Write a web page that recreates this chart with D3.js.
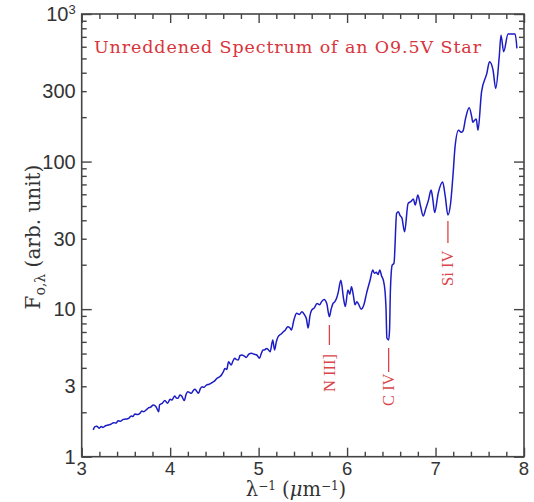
<!DOCTYPE html>
<html><head><meta charset="utf-8">
<script src="https://cdn.jsdelivr.net/npm/d3@7"></script>
<style>body{margin:0;background:#fff}</style>
</head><body>
<svg id="c" width="534" height="502"></svg>
<script>
const waveNumber = [3.13,3.15,3.17,3.20,3.22,3.24,3.27,3.30,3.33,3.36,3.39,3.41,3.44,3.47,3.50,3.53,3.56,3.58,3.60,3.63,3.66,3.68,3.70,3.73,3.75,3.78,3.81,3.84,3.87,3.88,3.91,3.94,3.97,4.00,4.02,4.05,4.07,4.09,4.11,4.13,4.16,4.18,4.20,4.22,4.24,4.26,4.28,4.30,4.32,4.34,4.36,4.38,4.41,4.44,4.47,4.50,4.53,4.56,4.58,4.60,4.62,4.64,4.66,4.69,4.71,4.73,4.75,4.77,4.79,4.81,4.84,4.86,4.89,4.92,4.95,4.98,5.01,5.03,5.05,5.07,5.09,5.11,5.13,5.16,5.18,5.20,5.22,5.25,5.28,5.30,5.33,5.35,5.37,5.40,5.43,5.46,5.49,5.52,5.54,5.56,5.58,5.60,5.63,5.66,5.69,5.71,5.74,5.77,5.80,5.82,5.84,5.86,5.88,5.90,5.93,5.96,5.98,6.01,6.03,6.05,6.07,6.09,6.11,6.13,6.16,6.19,6.22,6.26,6.29,6.31,6.33,6.35,6.37,6.39,6.41,6.43,6.44,6.45,6.47,6.48,6.49,6.51,6.53,6.56,6.58,6.60,6.62,6.65,6.69,6.72,6.75,6.77,6.80,6.83,6.86,6.89,6.92,6.95,6.97,6.99,7.03,7.08,7.11,7.14,7.17,7.20,7.22,7.26,7.29,7.31,7.34,7.38,7.41,7.42,7.44,7.46,7.48,7.52,7.58,7.61,7.65,7.68,7.72,7.74,7.77,7.82,7.90,7.92];
const flux = [1.52,1.60,1.61,1.56,1.60,1.58,1.62,1.64,1.66,1.70,1.69,1.75,1.74,1.79,1.80,1.82,1.89,1.87,1.95,1.93,1.97,2.04,2.02,2.08,2.13,2.17,2.24,2.18,2.02,2.24,2.30,2.40,2.30,2.45,2.42,2.58,2.50,2.49,2.62,2.58,2.40,2.65,2.76,2.72,2.69,2.80,2.86,2.78,2.69,2.88,2.98,2.95,3.06,3.10,3.17,3.25,3.40,3.48,3.58,3.75,3.96,3.90,4.40,4.18,4.45,4.64,4.55,4.52,4.85,4.89,4.80,4.71,4.95,5.02,4.95,4.89,4.64,5.00,5.28,5.30,5.42,5.30,5.14,6.18,5.28,6.00,6.50,6.75,7.03,7.20,7.60,7.50,7.22,8.50,9.37,9.20,9.60,9.12,8.60,7.45,9.00,9.86,10.2,10.9,10.7,11.2,11.6,10.9,8.88,10.0,10.9,11.2,11.8,13.0,15.7,11.8,10.4,13.5,12.6,14.2,12.5,10.7,11.2,10.8,10.0,10.7,12.8,15.7,18.4,17.5,17.8,17.2,18.4,16.8,15.7,13.0,10.2,6.37,6.18,7.22,13.5,19.9,20.4,44.6,45.7,43.0,41.4,33.4,52.1,53.5,55.7,50.7,59.3,50.0,42.7,48.0,54.8,64.1,55.0,45.1,60.9,72.6,58.0,43.4,52.0,85.0,125,163,158,161,197,232,200,185,190,194,163,297,396,474,417,313,513,719,555,731,731,585];
const xTickLabels = [3,4,5,6,7,8];
const yTickLabels = [1,3,10,30,100,300,1000];
const lines = [
  {label:"N III]", at:5.80},
  {label:"C IV", at:6.47},
  {label:"Si IV", at:7.14}
];
const title = "Unreddened Spectrum of an O9.5V Star";

const svg = d3.select("#c");
const L=81.7, R=524, T=14, B=456.7;
const x = d3.scaleLinear().domain([3,8]).range([L,R]);
const y = d3.scaleLog().domain([1,1000]).range([B,T]);
const axisCol = "#444";
const serif = "DejaVu Serif, Liberation Serif, serif";

// frame
svg.append("rect").attr("x",L).attr("y",T).attr("width",R-L).attr("height",B-T)
  .attr("fill","none").attr("stroke",axisCol).attr("stroke-width",1.6);

const xMajor = d3.range(3,8.001,1);
const xMinor = d3.range(3,8.001,0.2).filter(v=>Math.abs(v-Math.round(v))>1e-6);
const yMajor = [1,10,100,1000];
const yMinor = [];
[1,10,100].forEach(d=>{for(let k=2;k<=9;k++) yMinor.push(d*k);});

function drawAxis(gen, vals, size, tr){
  const g = svg.append("g").attr("transform",tr)
    .call(gen.tickValues(vals).tickSize(size).tickFormat(""));
  g.select(".domain").remove();
  g.selectAll("line").attr("stroke",axisCol).attr("stroke-width",1.4);
}
drawAxis(d3.axisBottom(x), xMajor, -9, `translate(0,${B})`);
drawAxis(d3.axisBottom(x), xMinor, -5, `translate(0,${B})`);
drawAxis(d3.axisTop(x), xMajor, -9, `translate(0,${T})`);
drawAxis(d3.axisTop(x), xMinor, -5, `translate(0,${T})`);
drawAxis(d3.axisLeft(y), yMajor, -10, `translate(${L},0)`);
drawAxis(d3.axisLeft(y), yMinor, -5, `translate(${L},0)`);
drawAxis(d3.axisRight(y), yMajor, -10, `translate(${R},0)`);
drawAxis(d3.axisRight(y), yMinor, -5, `translate(${R},0)`);

const tickFont = "Liberation Sans, Arial, sans-serif";
svg.append("g").selectAll("text").data(xTickLabels).join("text")
  .attr("x",d=>x(d)).attr("y",B+18).attr("text-anchor","middle")
  .attr("font-family",tickFont).attr("font-size",18.5).attr("fill","#333").text(d=>d);

const yl = svg.append("g").selectAll("text").data(yTickLabels).join("text")
  .attr("x",L-6).attr("y",d=>y(d)+7).attr("text-anchor","end")
  .attr("font-family",tickFont).attr("font-size",20).attr("fill","#333");
yl.each(function(d){
  const t=d3.select(this);
  if(d===1000){ t.text("10"); t.append("tspan").attr("font-size",13).attr("dy",-7).text("3"); }
  else t.text(d);
});

// spectrum
const pts = waveNumber.map((w,i)=>[w,flux[i]]);
svg.append("path").datum(pts)
  .attr("d", d3.line().x(d=>x(d[0])).y(d=>y(d[1])).curve(d3.curveMonotoneX))
  .attr("fill","none").attr("stroke","#1c1cc4").attr("stroke-width",1.5)
  .attr("stroke-linejoin","round");

// title
svg.append("text").attr("x",94).attr("y",53)
  .attr("font-family",serif).attr("font-size",17.5)
  .attr("fill","#d8343c").attr("textLength",387).attr("lengthAdjust","spacing").text(title);

// line annotations
const red = "#d9454a";
const ann = [
  {lineTop:325, lineBot:345, textBot:392},
  {lineTop:348, lineBot:372, textBot:406},
  {lineTop:221, lineBot:243, textBot:286}
];
lines.forEach((l,i)=>{
  const a = ann[i], px = x(l.at);
  svg.append("line").attr("x1",px).attr("x2",px).attr("y1",a.lineTop).attr("y2",a.lineBot)
    .attr("stroke",red).attr("stroke-width",1.3);
  svg.append("text").attr("transform",`translate(${px+5.5},${a.textBot}) rotate(-90)`)
    .attr("font-family","Liberation Serif, Times New Roman, serif").attr("font-size",16.5)
    .attr("fill",red).text(l.label);
});

// axis titles
const xt = svg.append("text").attr("x",296).attr("y",496).attr("text-anchor","middle")
  .attr("font-family",serif).attr("font-size",19.5).attr("fill","#333");
xt.append("tspan").text("λ");
xt.append("tspan").attr("font-size",12).attr("dy",-6).text("−1");
xt.append("tspan").attr("dy",6).text(" (");
xt.append("tspan").attr("font-style","italic").text("μ");
xt.append("tspan").text("m");
xt.append("tspan").attr("font-size",12).attr("dy",-6).text("−1");
xt.append("tspan").attr("dy",6).text(")");

const yt = svg.append("text").attr("transform","translate(40,237) rotate(-90)").attr("text-anchor","middle")
  .attr("font-family",serif).attr("font-size",20).attr("fill","#333");
yt.append("tspan").text("F");
yt.append("tspan").attr("font-size",14).attr("dy",5).text("o,λ");
yt.append("tspan").attr("dy",-5).text("  (arb. unit)");
</script>
</body></html>
